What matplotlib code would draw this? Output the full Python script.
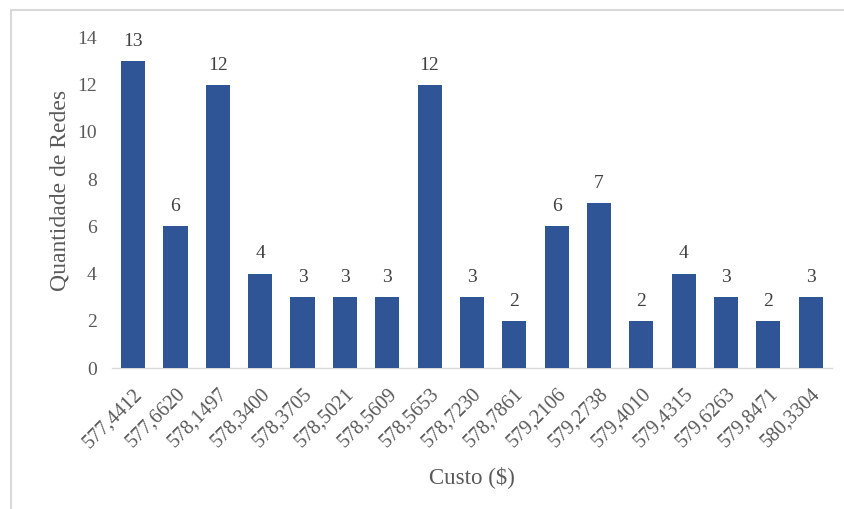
import matplotlib
matplotlib.use("Agg")
import matplotlib.pyplot as plt
from matplotlib.lines import Line2D

custos = ["577,4412", "577,6620", "578,1497", "578,3400", "578,3705", "578,5021",
          "578,5609", "578,5653", "578,7230", "578,7861", "579,2106", "579,2738",
          "579,4010", "579,4315", "579,6263", "579,8471", "580,3304"]
quantidades = [13, 6, 12, 4, 3, 3, 3, 12, 3, 2, 6, 7, 2, 4, 3, 2, 3]
y_ticks = [0, 2, 4, 6, 8, 10, 12, 14]

plt.rcParams["font.family"] = ["Liberation Serif", "DejaVu Serif"]
text_color = "#595959"
bar_color = "#2F5597"

fig = plt.figure(figsize=(8.45, 5.09), dpi=100)
ax = fig.add_axes([0.1325, 0.277, 0.852, 0.6495])

x = list(range(len(custos)))
bars = ax.bar(x, quantidades, width=0.57, color=bar_color, zorder=3)
for xi, q in zip(x, quantidades):
    ax.annotate(str(q), (xi, q), xytext=(0, 8), textcoords="offset points",
                ha="center", va="bottom", fontsize=14, color="#404040")

ax.set_xlim(-0.5, len(custos) - 0.5)
ax.set_ylim(0, 14)
ax.set_yticks(y_ticks)
ax.set_yticklabels([str(t) for t in y_ticks], fontsize=14, color=text_color)
ax.set_xticks(x)
ax.set_xticklabels(custos, rotation=45, ha="right", rotation_mode="anchor",
                   fontsize=14.5, color=text_color)
ax.tick_params(axis="both", length=0)
ax.tick_params(axis="y", pad=11)
ax.tick_params(axis="x", pad=12)

for side in ["top", "right", "left"]:
    ax.spines[side].set_visible(False)
ax.spines["bottom"].set_color("#D9D9D9")
ax.spines["bottom"].set_linewidth(1.0)

ax.set_ylabel("Quantidade de Redes", fontsize=17, color=text_color)
ax.yaxis.set_label_coords(-0.058, 0.538)
ax.set_xlabel("Custo ($)", fontsize=16.5, color=text_color)
ax.xaxis.set_label_coords(0.5, -0.297)

# outer chart frame (top and left edges)
fig.add_artist(Line2D([11 / 845, 1.0], [1 - 10 / 509, 1 - 10 / 509],
                      transform=fig.transFigure, color="#D9D9D9", linewidth=1.5))
fig.add_artist(Line2D([11 / 845, 11 / 845], [0.0, 1 - 10 / 509],
                      transform=fig.transFigure, color="#D9D9D9", linewidth=1.5))

fig.savefig("out.png", dpi=100)
